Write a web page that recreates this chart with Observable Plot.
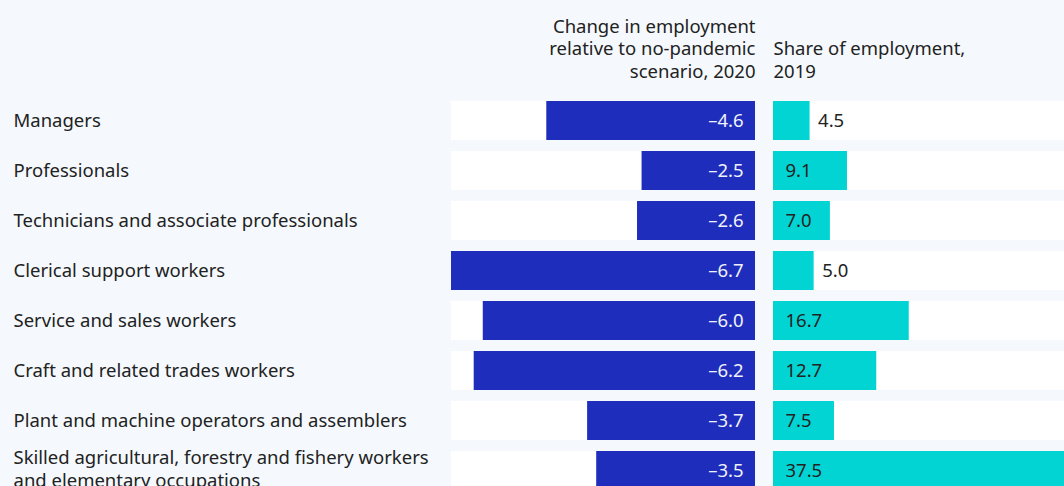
<!DOCTYPE html>
<html>
<head>
<meta charset="utf-8">
<script src="https://cdn.jsdelivr.net/npm/d3@7"></script>
<script src="https://cdn.jsdelivr.net/npm/@observablehq/plot@0.6"></script>
<style>
  html, body { margin: 0; padding: 0; background: #f5f9fd; overflow: hidden; }
  #wrap { display: flex; width: 1064px; height: 486px; overflow: hidden; }
  #wrap svg { display: block; flex: none; }
</style>
</head>
<body>
<div id="wrap"></div>
<script>
const categories = [
  "Managers",
  "Professionals",
  "Technicians and associate professionals",
  "Clerical support workers",
  "Service and sales workers",
  "Craft and related trades workers",
  "Plant and machine operators and assemblers",
  "Skilled agricultural, forestry and fishery workers\nand elementary occupations"
];
const change = [-4.6, -2.5, -2.6, -6.7, -6.0, -6.2, -3.7, -3.5];
const share = [4.5, 9.1, 7.0, 5.0, 16.7, 12.7, 7.5, 37.5];
const changeTitle = "Change in employment\nrelative to no-pandemic\nscenario, 2020";
const shareTitle = "Share of employment,\n2019";

const rows = categories.map((c, i) => ({cat: c, change: change[i], share: share[i]}));
const fmtNeg = v => (v < 0 ? "\u2013" : "") + Math.abs(v).toFixed(1);
const fmt = v => v.toFixed(1);

const BLUE = "#1f2dbd", CYAN = "#02d4d4", INK = "#222222";
const FS = 18.5;
const yScale = {domain: categories, range: [95.5, 495.5], paddingInner: 0.22, paddingOuter: 0.11, axis: null};
const style = {background: "transparent", fontFamily: "'Noto Sans', sans-serif", fontSize: FS + "px", overflow: "hidden"};
const cmin = d3.min(change);
const single = rows.filter(d => !d.cat.includes("\n"));
const multi = rows.filter(d => d.cat.includes("\n"));

const left = Plot.plot({
  width: 773, height: 486,
  marginLeft: 451, marginRight: 18, marginTop: 0, marginBottom: 0,
  style,
  x: {domain: [cmin, 0], axis: null},
  y: yScale,
  marks: [
    Plot.barX(rows, {y: "cat", x1: cmin, x2: 0, fill: "white"}),
    Plot.barX(rows, {y: "cat", x1: "change", x2: 0, fill: BLUE}),
    Plot.text(rows, {y: "cat", x: 0, text: d => fmtNeg(d.change), textAnchor: "end", dx: -12, fill: "#f0f2fb", fontSize: FS}),
    Plot.text(single, {y: "cat", text: "cat", frameAnchor: "left", textAnchor: "start", dx: -438, fill: INK, fontSize: FS}),
    Plot.text(multi, {y: "cat", text: "cat", frameAnchor: "left", textAnchor: "start", dx: -438, dy: -3, fill: INK, fontSize: FS, lineHeight: 1.22}),
    Plot.text([changeTitle], {frameAnchor: "top-right", textAnchor: "end", lineAnchor: "top", dy: 16, fill: INK, fontSize: FS, lineHeight: 1.22})
  ]
});

const right = Plot.plot({
  width: 291, height: 486,
  marginLeft: 0, marginRight: 0, marginTop: 0, marginBottom: 0,
  style,
  x: {domain: [0, 35.8], axis: null},
  y: yScale,
  marks: [
    Plot.barX(rows, {y: "cat", x1: 0, x2: 35.8, fill: "white", clip: true}),
    Plot.barX(rows, {y: "cat", x1: 0, x2: "share", fill: CYAN, clip: true}),
    Plot.text(rows.filter(d => d.share >= 6), {y: "cat", x: 0, text: d => fmt(d.share), textAnchor: "start", dx: 12, fill: INK, fontSize: FS}),
    Plot.text(rows.filter(d => d.share < 6), {y: "cat", x: "share", text: d => fmt(d.share), textAnchor: "start", dx: 8, fill: INK, fontSize: FS}),
    Plot.text([shareTitle], {frameAnchor: "top-left", textAnchor: "start", lineAnchor: "top", dy: 38.5, fill: INK, fontSize: FS, lineHeight: 1.22})
  ]
});

const wrap = document.getElementById("wrap");
wrap.appendChild(left);
wrap.appendChild(right);
</script>
</body>
</html>
